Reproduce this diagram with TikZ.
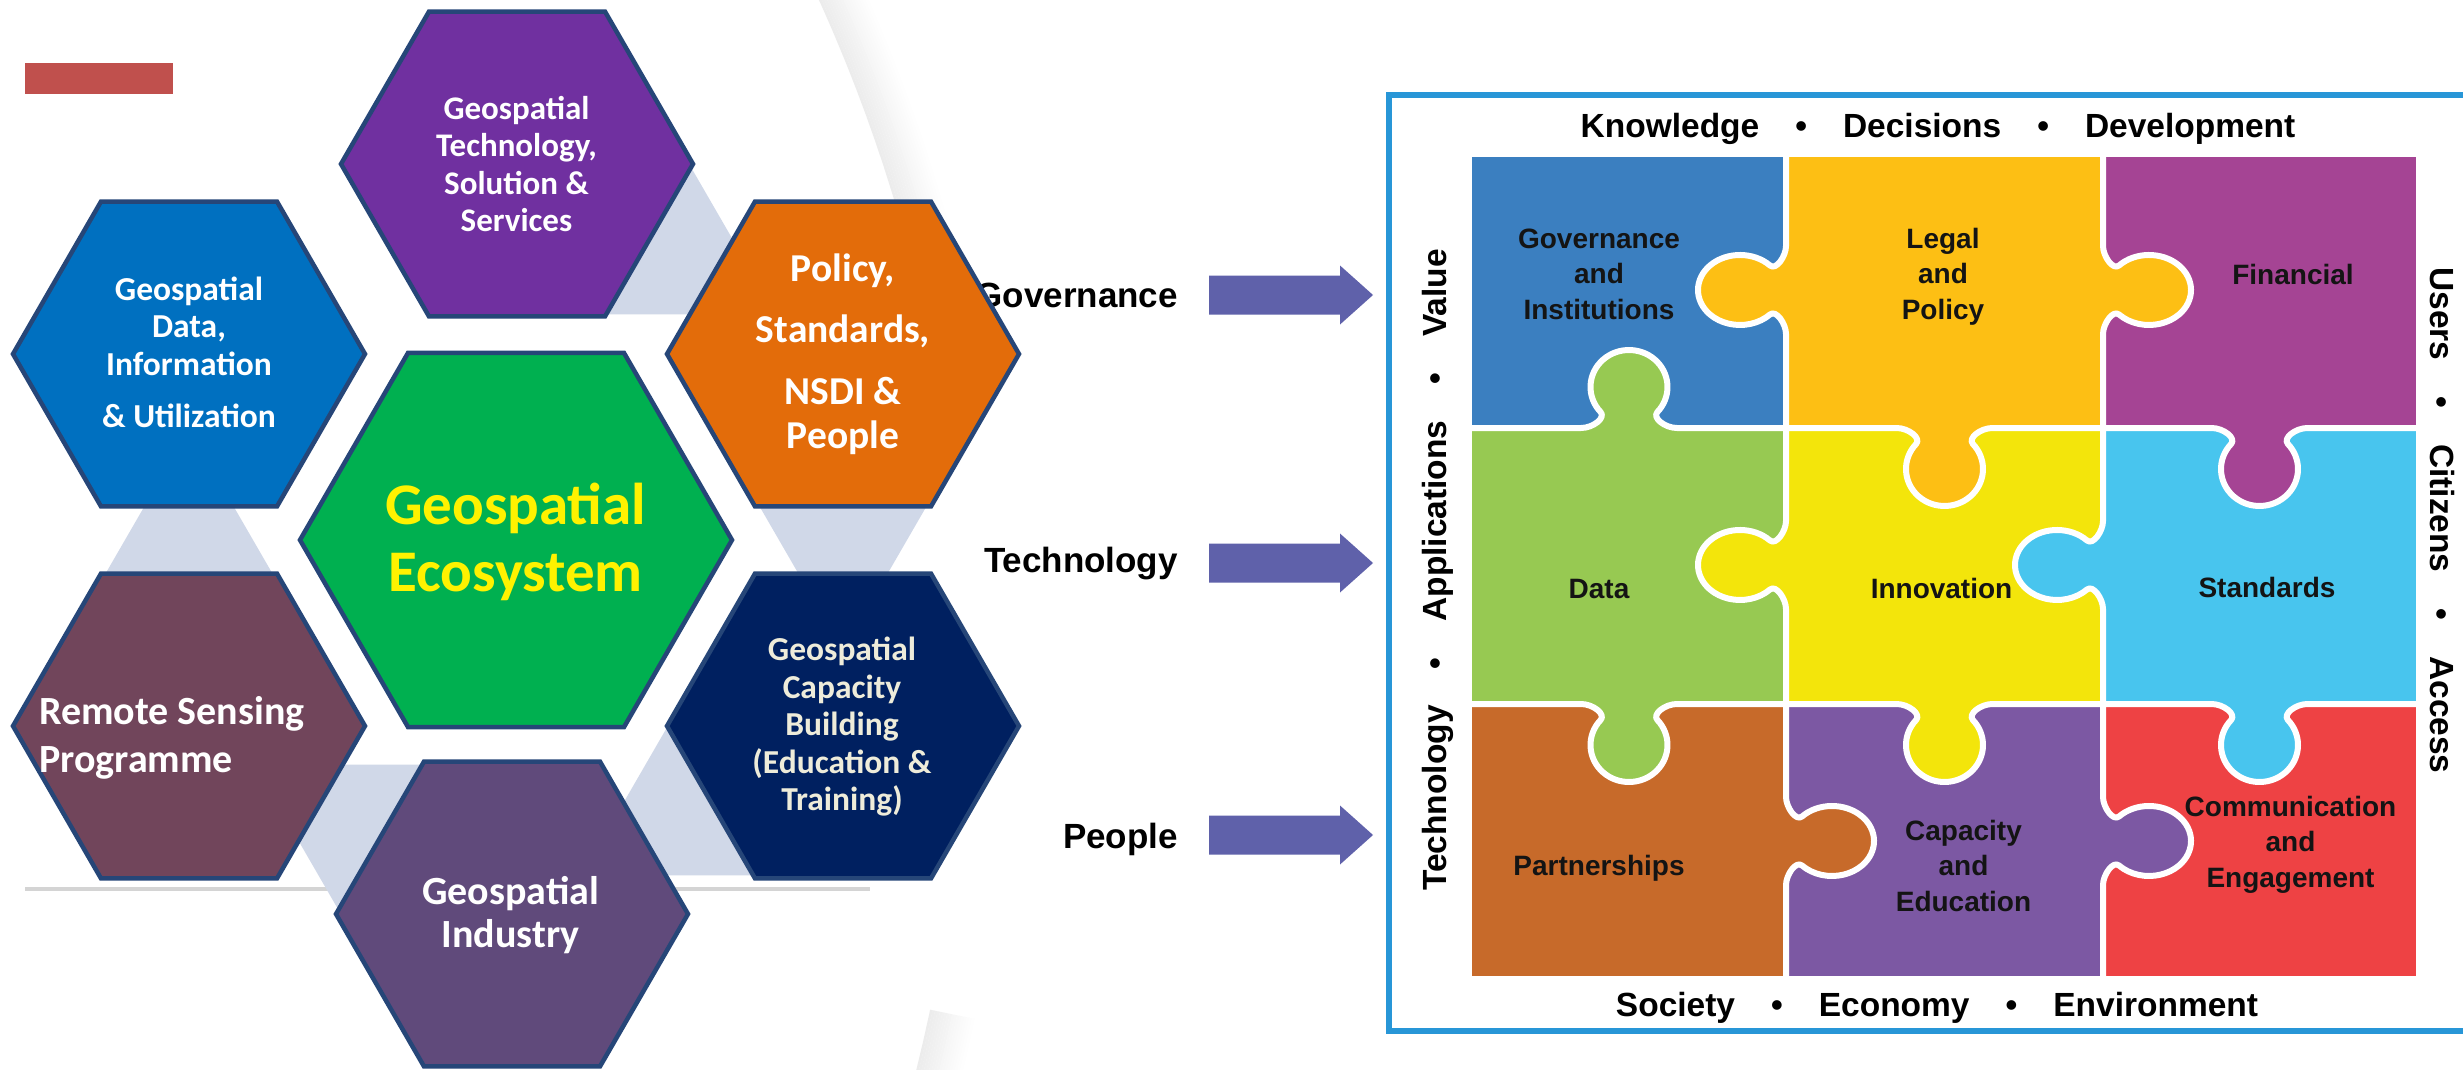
\documentclass[tikz,border=0pt]{standalone}
\usepackage{fontspec}
\setmainfont{Liberation Sans}
\newfontfamily\calibri{Carlito}

% hexagon palette
\definecolor{hexline}{RGB}{38,70,120}
\definecolor{hxPurple}{RGB}{112,48,160}
\definecolor{hxBlue}{RGB}{0,112,192}
\definecolor{hxOrange}{RGB}{227,108,10}
\definecolor{hxGreen}{RGB}{0,176,80}
\definecolor{hxMaroon}{RGB}{113,69,91}
\definecolor{hxNavy}{RGB}{0,32,96}
\definecolor{hxIndustry}{RGB}{96,74,123}
\definecolor{linkgray}{RGB}{208,216,232}
\definecolor{rulegray}{RGB}{212,212,212}
\definecolor{tagred}{RGB}{192,80,77}
\definecolor{creamtext}{RGB}{238,236,218}
% arrows and frame
\definecolor{arrowblue}{RGB}{95,97,170}
\definecolor{frameblue}{RGB}{40,150,215}
% puzzle palette
\definecolor{pzGov}{RGB}{59,127,192}
\definecolor{pzLegal}{RGB}{253,191,20}
\definecolor{pzFin}{RGB}{165,68,148}
\definecolor{pzData}{RGB}{151,201,82}
\definecolor{pzInno}{RGB}{243,229,11}
\definecolor{pzStd}{RGB}{72,197,238}
\definecolor{pzPart}{RGB}{199,106,42}
\definecolor{pzCap}{RGB}{124,88,163}
\definecolor{pzComm}{RGB}{238,66,68}

% centred block of lines, baseline on the first line
\newcommand{\mlines}[1]{\parbox[t]{420pt}{\centering #1}}
% flat-top hexagon: centre x, centre y, radius, fill
\newcommand{\hexagon}[4]{\filldraw[hexcell, fill=#4] (#1,#2) +(0:#3) -- +(60:#3) -- +(120:#3) -- +(180:#3) -- +(240:#3) -- +(300:#3) -- cycle;}
% grey link triangles (centroid x, centroid y)
\newcommand{\linkup}[2]{\fill[linkgray] (#1,{#2-110.7}) -- ({#1+96},{#2+55.3}) -- ({#1-96},{#2+55.3}) -- cycle;}
\newcommand{\linkdown}[2]{\fill[linkgray] (#1,{#2+110.7}) -- ({#1+96},{#2-55.3}) -- ({#1-96},{#2-55.3}) -- cycle;}
% puzzle seams with a knob: centre, seam line, seam ends, knob colour
\newcommand{\knobdown}[5]{\filldraw[knobedge, fill=#5] (#3,#2) -- ({#1-48},#2)
  .. controls ({#1-36},#2) and ({#1-22.9},{#2+10.2}) .. ({#1-28.4},{#2+16})
  arc[start angle=222.5, end angle=-42.5, x radius=38.5, y radius=37]
  .. controls ({#1+22.9},{#2+10.2}) and ({#1+36},#2) .. ({#1+48},#2) -- (#4,#2);}
\newcommand{\knobup}[5]{\filldraw[knobedge, fill=#5] (#3,#2) -- ({#1-48},#2)
  .. controls ({#1-36},#2) and ({#1-22.9},{#2-10.2}) .. ({#1-28.4},{#2-16})
  arc[start angle=137.5, end angle=402.5, x radius=38.5, y radius=37]
  .. controls ({#1+22.9},{#2-10.2}) and ({#1+36},#2) .. ({#1+48},#2) -- (#4,#2);}
\newcommand{\knobleft}[5]{\filldraw[knobedge, fill=#5] (#1,#3) -- (#1,{#2-44})
  .. controls (#1,{#2-34}) and ({#1-9.9},{#2-19.3}) .. ({#1-16},{#2-24.5})
  arc[start angle=-44.4, end angle=-315.6, x radius=42, y radius=35]
  .. controls ({#1-9.9},{#2+19.3}) and (#1,{#2+34}) .. (#1,{#2+44}) -- (#1,#4);}
\newcommand{\knobright}[5]{\filldraw[knobedge, fill=#5] (#1,#3) -- (#1,{#2-44})
  .. controls (#1,{#2-34}) and ({#1+9.9},{#2-19.3}) .. ({#1+16},{#2-24.5})
  arc[start angle=224.4, end angle=495.6, x radius=42, y radius=35]
  .. controls ({#1+9.9},{#2+19.3}) and (#1,{#2+34}) .. (#1,{#2+44}) -- (#1,#4);}
% block arrow with its axis at height #1
\newcommand{\blockarrow}[1]{\fill[arrowblue] (1209,{#1-19.5}) -- (1340,{#1-19.5}) -- (1340,{#1-29.5}) -- (1373,#1) -- (1340,{#1+29.5}) -- (1340,{#1+19.5}) -- (1209,{#1+19.5}) -- cycle;}

\begin{document}
\begin{tikzpicture}[x=1pt, y=-1pt,
  hexcell/.style={draw=hexline, line width=4.5, line join=miter},
  knobedge/.style={draw=white, line width=6, line join=round, line cap=rect},
  pztext/.style={inner sep=0, anchor=base, text=black!92, font=\bfseries\fontsize{28}{35.5}\selectfont},
  sidetext/.style={inner sep=0, anchor=base, text=black, font=\bfseries\fontsize{33.5}{40}\selectfont},
  flowlabel/.style={inner sep=0, anchor=base east, text=black, font=\bfseries\fontsize{35}{42}\selectfont},
  hextext/.style={inner sep=0, anchor=base, text=white}
]
\path[use as bounding box] (0,0) rectangle (2463,1070);
\clip (0,0) rectangle (2463,1070);
\fill[white] (0,0) rectangle (2463,1070);

% ---------- left panel: hexagon cluster ----------
\fill[tagred] (25,63) rectangle (173,94);

% soft rim of the large backdrop circle
\foreach \k in {0,...,17}{
  \pgfmathsetmacro\shadeamt{7.5*(1-\k/18)}
  \draw[line width=2.6, black!\shadeamt] plot[domain=-24.8:-15.5, samples=30]
    ({-672+(1638+2.5*\k)*cos(\x)},{675+(1638+2.5*\k)*sin(\x)});
  \draw[line width=2.6, black!\shadeamt] plot[domain=11.8:14.6, samples=15]
    ({-672+(1638+2.5*\k)*cos(\x)},{675+(1638+2.5*\k)*sin(\x)});
}

% base rule
\draw[rulegray, line width=4] (25,888.5) -- (870,888.5);

% grey links between neighbouring hexagons
\linkup{680}{259}
\linkdown{843}{540}
\linkup{677.5}{820}
\linkdown{350.5}{820}
\linkup{189}{540}

% pillar labels (partly tucked behind the orange hexagon)
\node[flowlabel] (lblGov) at (1178,307) {Governance};
\node[flowlabel] (lblTech) at (1178,572.4) {Technology};
\node[flowlabel] (lblPeople) at (1178,848.4) {People};

% hexagons
\hexagon{517}{164}{176}{hxPurple}
\hexagon{189}{354}{176}{hxBlue}
\hexagon{843}{354}{176}{hxOrange}
\hexagon{516}{540}{216}{hxGreen}
\hexagon{189}{726}{176}{hxMaroon}
\hexagon{843}{726}{176}{hxNavy}
\hexagon{512}{914}{176}{hxIndustry}

\node[hextext, font=\calibri\bfseries\fontsize{33}{37.5}\selectfont] (hxTech) at (516.5,119.4)
  {\mlines{Geospatial\\Technology,\\Solution \&\\Services}};
\node[hextext, font=\calibri\bfseries\fontsize{33.5}{37.5}\selectfont] (hxData) at (189,300)
  {\mlines{Geospatial\\Data,\\Information\\[15.2pt]\& Utilization}};
\node[hextext, font=\calibri\bfseries\fontsize{39.5}{44.3}\selectfont] (hxPolicy) at (843,281)
  {\mlines{Policy,\\[17.3pt]Standards,\\[17.3pt]NSDI \&\\People}};
\node[hextext, text=yellow, font=\calibri\bfseries\fontsize{59}{67}\selectfont] (hxCore) at (515.5,524)
  {\mlines{Geospatial\\Ecosystem}};
\node[hextext, anchor=base west, font=\calibri\bfseries\fontsize{40}{47.8}\selectfont] (hxRemote) at (39,724.7)
  {\parbox[t]{420pt}{\raggedright Remote Sensing\\Programme}};
\node[hextext, text=creamtext, font=\calibri\bfseries\fontsize{33.5}{37.5}\selectfont] (hxCapacity) at (842,660.6)
  {\mlines{Geospatial\\Capacity\\Building\\(Education \&\\Training)}};
\node[hextext, font=\calibri\bfseries\fontsize{40}{43}\selectfont] (hxIndustry) at (510.5,904.2)
  {\mlines{Geospatial\\Industry}};

% ---------- arrows into the framework ----------
\blockarrow{295}
\blockarrow{563}
\blockarrow{835}

% ---------- right panel: framework frame ----------
\draw[frameblue, line width=6.5] (1389,95) rectangle (2500,1031);

% puzzle cells
\fill[pzGov]  (1472,157) rectangle (1786,428);
\fill[pzLegal](1786,157) rectangle (2103,428);
\fill[pzFin]  (2103,157) rectangle (2416,428);
\fill[pzData] (1472,428) rectangle (1786,704);
\fill[pzInno] (1786,428) rectangle (2103,704);
\fill[pzStd]  (2103,428) rectangle (2416,704);
\fill[pzPart] (1472,704) rectangle (1786,976);
\fill[pzCap]  (1786,704) rectangle (2103,976);
\fill[pzComm] (2103,704) rectangle (2416,976);

% seams and knobs
\knobup{1629}{428}{1472}{1786}{pzData}
\knobdown{1944.5}{428}{1786}{2103}{pzLegal}
\knobdown{2259.5}{428}{2103}{2416}{pzFin}
\knobdown{1629}{704}{1472}{1786}{pzData}
\knobdown{1944.5}{704}{1786}{2103}{pzInno}
\knobdown{2259.5}{704}{2103}{2416}{pzStd}
\knobleft{1786}{290}{157}{428}{pzLegal}
\knobright{2103}{290}{157}{428}{pzLegal}
\knobleft{1786}{565}{428}{704}{pzInno}
\knobleft{2103}{565}{428}{704}{pzStd}
\knobright{1786}{841}{704}{976}{pzPart}
\knobright{2103}{841}{704}{976}{pzCap}

% piece labels
\node[pztext] (pGov) at (1599,248) {\mlines{Governance\\and\\Institutions}};
\node[pztext] (pLegal) at (1943,248) {\mlines{Legal\\and\\Policy}};
\node[pztext] (pFin) at (2293,284) {Financial};
\node[pztext] (pData) at (1599,598) {Data};
\node[pztext] (pInno) at (1941.5,598) {Innovation};
\node[pztext] (pStd) at (2267,597) {Standards};
\node[pztext] (pPart) at (1599,875) {Partnerships};
\node[pztext] (pCap) at (1963.5,840) {\mlines{Capacity\\and\\Education}};
\node[pztext] (pComm) at (2290.5,816) {\mlines{Communication\\and\\Engagement}};

% outcome words around the puzzle
\node[sidetext] (sTop) at (1938,138)
  {Knowledge\hspace{36pt}\textbullet\hspace{36pt}Decisions\hspace{36pt}\textbullet\hspace{36pt}Development};
\node[sidetext] (sBottom) at (1937,1016.7)
  {Society\hspace{36pt}\textbullet\hspace{36pt}Economy\hspace{36pt}\textbullet\hspace{36pt}Environment};
\node[sidetext, rotate=90] (sLeft) at (1446.7,570)
  {Technology\hspace{36pt}\textbullet\hspace{36pt}Applications\hspace{36pt}\textbullet\hspace{36pt}Value};
\node[sidetext, rotate=-90] (sRight) at (2430.5,520.5)
  {Users\hspace{36pt}\textbullet\hspace{36pt}Citizens\hspace{36pt}\textbullet\hspace{36pt}Access};
\end{tikzpicture}
\end{document}
